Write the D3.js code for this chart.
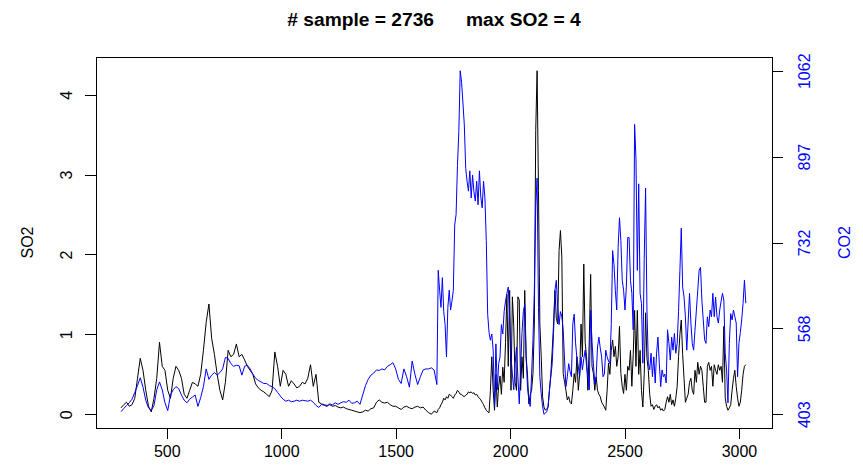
<!DOCTYPE html>
<html>
<head>
<meta charset="utf-8">
<script src="https://cdn.jsdelivr.net/npm/d3@7"></script>
<style>
body { margin: 0; background: #fff; }
text { font-family: "Liberation Sans", Arial, sans-serif; }
</style>
</head>
<body>
<div id="chart"></div>
<script>
// sample index runs from xStart to xEnd; values read every 12 samples,
// every 6 samples from fineStart on where the series get noisy
var xStart = 300, xEnd = 3035, coarseStep = 12, fineStart = 1680, fineStep = 6;
var sampleCount = 2736, maxSO2Label = 4;

var sampleIdx = d3.range(xStart, fineStart, coarseStep)
  .concat(d3.range(fineStart, xEnd, fineStep));

var so2 = [
  // 300 - 1668, every 12
  0.08, 0.12, 0.15, 0.10, 0.12, 0.20, 0.45, 0.70, 0.55, 0.30,
  0.10, 0.03, 0.20, 0.45, 0.90, 0.60, 0.55, 0.30, 0.20, 0.45,
  0.60, 0.55, 0.45, 0.25, 0.20, 0.30, 0.40, 0.38, 0.35, 0.50,
  0.80, 1.15, 1.38, 0.95, 0.75, 0.50, 0.30, 0.18, 0.40, 0.80,
  0.72, 0.75, 0.88, 0.72, 0.75, 0.68, 0.60, 0.55, 0.50, 0.38,
  0.33, 0.30, 0.28, 0.25, 0.22, 0.30, 0.78, 0.60, 0.35, 0.55,
  0.50, 0.35, 0.42, 0.38, 0.33, 0.35, 0.40, 0.38, 0.45, 0.62,
  0.35, 0.50, 0.15, 0.13, 0.12, 0.11, 0.12, 0.10, 0.11, 0.09,
  0.08, 0.09, 0.07, 0.06, 0.05, 0.04, 0.03, 0.02, 0.03, 0.05,
  0.04, 0.07, 0.08, 0.15, 0.18, 0.15, 0.14, 0.15, 0.12, 0.10,
  0.10, 0.08, 0.06, 0.09, 0.10, 0.08, 0.07, 0.09, 0.10, 0.08,
  0.09, 0.05, 0.02, 0.00, 0.04,
  // 1680 - 3030, every 6
  0.02, 0.06, 0.08, 0.12, 0.15, 0.20, 0.18, 0.22, 0.20, 0.25,
  0.24, 0.22, 0.20, 0.24, 0.26, 0.30, 0.28, 0.25, 0.25, 0.23,
  0.22, 0.24, 0.25, 0.28, 0.27, 0.28, 0.26, 0.27, 0.24, 0.25,
  0.22, 0.20, 0.18, 0.15, 0.12, 0.08, 0.05, 0.03, 0.02, 0.30,
  0.72, 0.30, 0.05, 0.50, 0.09, 0.35, 0.48, 0.25, 0.59, 0.40,
  0.90, 1.50, 0.60, 1.55, 0.30, 1.47, 1.10, 0.40, 0.30, 1.47,
  1.43, 0.30, 0.72, 0.45, 1.55, 0.72, 0.50, 0.13, 0.25, 0.30,
  0.51, 1.13, 3.55, 4.30, 2.80, 1.13, 0.72, 0.22, 0.09, 0.05,
  0.07, 0.09, 0.30, 0.51, 0.80, 1.13, 1.55, 1.20, 1.13, 2.05,
  2.30, 1.97, 0.51, 0.40, 0.30, 0.18, 0.22, 0.15, 0.13, 0.30,
  0.51, 0.40, 0.72, 0.30, 0.50, 1.13, 0.72, 1.88, 0.90, 0.72,
  0.30, 0.93, 1.75, 0.60, 0.51, 0.30, 0.47, 0.30, 0.25, 0.22,
  0.15, 0.12, 0.09, 0.05, 0.30, 0.64, 0.50, 0.80, 0.93, 0.72,
  0.85, 0.60, 0.72, 1.10, 0.51, 0.35, 0.26, 0.50, 0.30, 0.60,
  0.55, 0.80, 0.35, 0.75, 1.30, 0.60, 1.30, 0.50, 0.80, 0.30,
  0.09, 0.50, 1.27, 0.70, 0.55, 0.25, 0.10, 0.12, 0.06, 0.10,
  0.12, 0.08, 0.10, 0.05, 0.07, 0.04, 0.06, 0.15, 0.22, 0.15,
  0.25, 0.12, 0.18, 0.10, 0.20, 0.35, 0.72, 1.00, 1.18, 0.75,
  0.45, 0.15, 0.20, 0.25, 0.40, 0.45, 0.30, 0.25, 0.55, 0.40,
  0.65, 0.50, 0.60, 0.55, 0.35, 0.15, 0.15, 0.60, 0.65, 0.55,
  0.60, 0.35, 0.62, 0.55, 0.50, 0.62, 0.55, 0.60, 0.40, 1.10,
  0.20, 0.10, 0.05, 0.08, 0.12, 0.30, 0.45, 0.55, 0.35, 0.20,
  0.10, 0.15, 0.30, 0.50, 0.60, 0.62
];

var co2 = [
  // 300 - 1668, every 12
  408, 414, 420, 425, 432, 445, 458, 473, 455, 430,
  415, 410, 420, 450, 465, 450, 425, 410, 440, 450,
  456, 452, 440, 430, 425, 432, 436, 440, 418, 435,
  456, 490, 470, 478, 483, 478, 483, 490, 512, 510,
  500, 495, 497, 496, 478, 495, 497, 490, 480, 472,
  468, 465, 462, 462, 458, 456, 452, 445, 438, 432,
  428, 430, 427, 428, 430, 428, 430, 429, 428, 430,
  426, 420, 416, 422, 420, 418, 423, 421, 425, 422,
  425, 427, 426, 430, 424, 425, 428, 422, 440, 458,
  470, 478, 482, 488, 487, 490, 488, 495, 498, 502,
  490, 470, 462, 490, 475, 455, 505, 480, 460, 475,
  488, 490, 490, 492, 488,
  // 1680 - 3030, every 6
  460, 679, 641, 608, 665, 600, 575, 513, 608, 641,
  603, 620, 641, 766, 786, 880, 946, 1062, 1040, 1000,
  958, 875, 850, 831, 870, 818, 862, 830, 812, 850,
  805, 870, 820, 799, 850, 818, 736, 595, 560, 545,
  557, 526, 418, 538, 450, 500, 513, 575, 557, 600,
  620, 635, 647, 589, 513, 480, 450, 500, 532, 475,
  423, 490, 560, 600, 614, 513, 455, 430, 418, 480,
  545, 640, 800, 856, 608, 475, 442, 418, 403, 405,
  408, 418, 450, 475, 500, 560, 641, 660, 608, 575,
  600, 590, 565, 507, 456, 475, 500, 485, 475, 576,
  595, 540, 510, 495, 475, 513, 488, 510, 526, 495,
  475, 450, 603, 540, 500, 461, 475, 532, 551, 530,
  513, 475, 480, 526, 513, 505, 500, 575, 717, 690,
  640, 603, 723, 780, 736, 660, 641, 603, 647, 742,
  742, 660, 635, 565, 959, 894, 679, 845, 635, 616,
  501, 700, 837, 603, 501, 488, 520, 475, 513, 463,
  520, 551, 501, 456, 488, 475, 480, 463, 565, 539,
  507, 551, 526, 558, 520, 539, 600, 679, 760, 647,
  628, 590, 526, 580, 635, 578, 539, 526, 565, 603,
  640, 679, 685, 622, 584, 546, 539, 590, 571, 603,
  590, 635, 590, 628, 590, 578, 603, 620, 635, 622,
  520, 488, 425, 539, 596, 584, 603, 590, 578, 475,
  539, 560, 584, 616, 660, 616
];

var xTicks = [500, 1000, 1500, 2000, 2500, 3000];
var so2Ticks = [0, 1, 2, 3, 4];
var co2Ticks = [403, 567.75, 732.5, 897.25, 1062];
var co2TickLabels = ["403", "568", "732", "897", "1062"];

var margin = {top: 57, right: 91, bottom: 40, left: 96},
    width = 863 - margin.left - margin.right,
    height = 468 - margin.top - margin.bottom;

// R style 4% padding of the data range
function pad(ext) {
  var d = (ext[1] - ext[0]) * 0.04;
  return [ext[0] - d, ext[1] + d];
}

var svg = d3.select("#chart")
  .append("svg")
    .attr("width", 863)
    .attr("height", 468);

var g = svg.append("g")
    .attr("transform", "translate(" + margin.left + "," + margin.top + ")");

var x = d3.scaleLinear().domain(pad([xStart, xEnd])).range([0, width]);
var y = d3.scaleLinear().domain(pad(d3.extent(so2))).range([height, 0]);
var y2 = d3.scaleLinear().domain(pad(d3.extent(co2))).range([height, 0]);

var lineSO2 = d3.line()
    .x(function(d, i) { return x(sampleIdx[i]); })
    .y(function(d) { return y(d); });

var lineCO2 = d3.line()
    .x(function(d, i) { return x(sampleIdx[i]); })
    .y(function(d) { return y2(d); });

g.append("path")
    .datum(so2)
    .attr("fill", "none")
    .attr("stroke", "#000")
    .attr("stroke-width", 1)
    .attr("d", lineSO2);

g.append("path")
    .datum(co2)
    .attr("fill", "none")
    .attr("stroke", "#0000ff")
    .attr("stroke-width", 1)
    .attr("d", lineCO2);

// bottom axis
var xa = g.append("g")
    .attr("transform", "translate(0," + height + ")")
    .call(d3.axisBottom(x).tickValues(xTicks).tickSize(11).tickFormat(d3.format("d")));
xa.selectAll("text")
    .attr("y", 29).attr("dy", null)
    .attr("fill", "#000")
    .style("font-size", "16px");

// left axis
var ya = g.append("g")
    .call(d3.axisLeft(y).tickValues(so2Ticks).tickSize(11).tickFormat(d3.format("d")));
ya.selectAll("text")
    .attr("x", 0).attr("y", -24.3).attr("dy", null)
    .attr("transform", "rotate(-90)")
    .style("text-anchor", "middle")
    .attr("fill", "#000")
    .style("font-size", "16px");

// right axis
var y2a = g.append("g")
    .attr("transform", "translate(" + width + ",0)")
    .call(d3.axisRight(y2).tickValues(co2Ticks).tickSize(11)
      .tickFormat(function(d, i) { return co2TickLabels[i]; }));
y2a.selectAll("text")
    .attr("x", 0).attr("y", 38).attr("dy", null)
    .attr("transform", "rotate(-90)")
    .style("text-anchor", "middle")
    .attr("fill", "#0000ff")
    .style("font-size", "16px");

svg.selectAll(".domain").remove();
svg.selectAll(".tick line")
    .attr("stroke", "#000")
    .attr("shape-rendering", "crispEdges");

// plot frame
g.append("rect")
    .attr("x", 0.5).attr("y", 0.5)
    .attr("width", width).attr("height", height)
    .attr("fill", "none")
    .attr("stroke", "#000")
    .attr("shape-rendering", "crispEdges");

// titles
svg.append("text")
    .attr("x", margin.left + width / 2)
    .attr("y", 26)
    .attr("text-anchor", "middle")
    .style("font-size", "19.2px")
    .style("font-weight", "bold")
    .style("white-space", "pre")
    .text("# sample = " + sampleCount + "      max SO2 = " + maxSO2Label);

svg.append("text")
    .attr("transform", "translate(33," + (margin.top + height / 2) + ") rotate(-90)")
    .attr("text-anchor", "middle")
    .style("font-size", "16px")
    .text("SO2");

svg.append("text")
    .attr("transform", "translate(850," + (margin.top + height / 2) + ") rotate(-90)")
    .attr("text-anchor", "middle")
    .attr("fill", "#0000ff")
    .style("font-size", "16px")
    .text("CO2");
</script>
</body>
</html>
